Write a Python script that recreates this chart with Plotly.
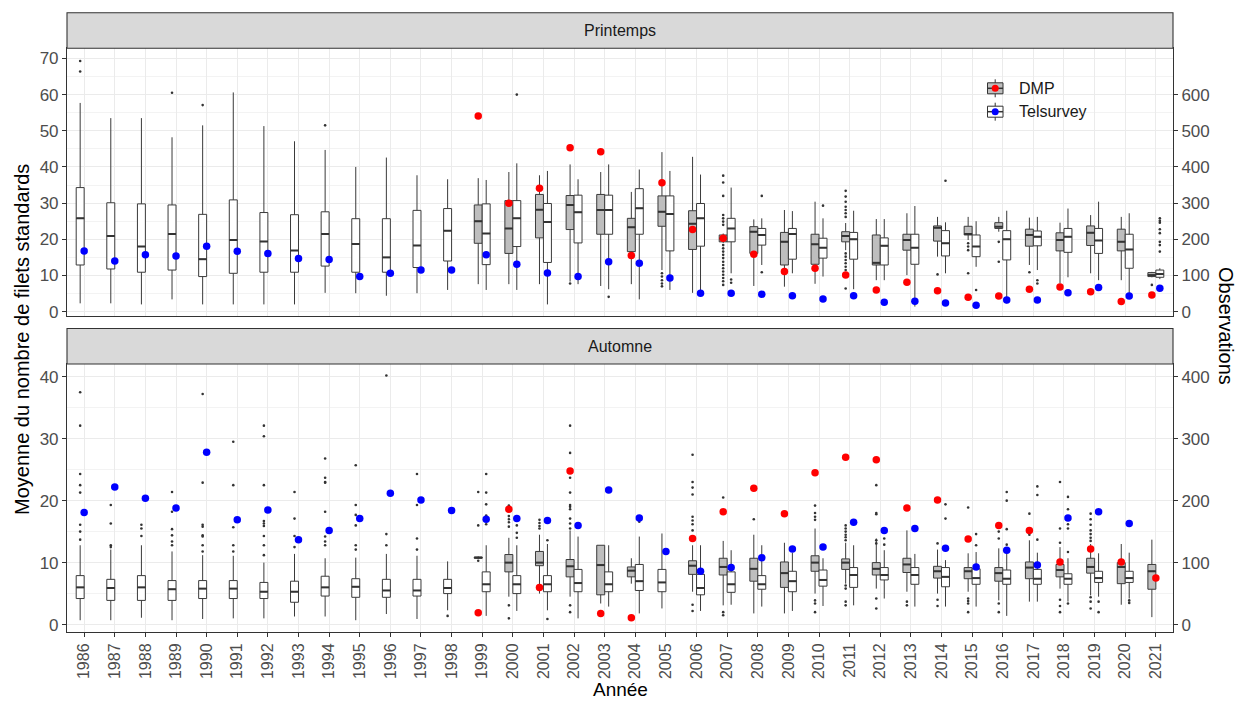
import plotly.graph_objects as go

# ---------------- data ----------------
# Printemps - Telsurvey boxplots (1986-2021): lower whisker, Q1, median, Q3, upper whisker
pr_tel_years = list(range(1986, 2022))
pr_tel_lo = [2.3, 2.3, 2.0, 3.4, 2.0, 2.0, 2.0, 2.0, 5.2, 5.1, 4.4, 5.1, 6.0, 6.0, 6.0, 2.0, 7.6, 6.2,
             3.4, 6.0, 5.1, 10.6, 12.9, 10.6, 9.7, 6.2, 8.7, 1.4, 10.6, 12.4, 2.3, 11.5, 9.5, 8.7, 4.3, 9.0]
pr_tel_q1 = [12.9, 11.8, 10.9, 11.5, 9.7, 10.6, 10.9, 10.9, 12.6, 10.9, 10.9, 12.2, 14.0, 13.0, 18.0, 13.6,
             19.0, 21.4, 21.4, 16.8, 18.1, 19.3, 18.4, 14.5, 14.8, 14.5, 12.9, 13.1, 15.4, 15.2, 14.3, 18.2,
             16.4, 16.1, 12.0, 9.5]
pr_tel_med = [25.8, 20.9, 18.0, 21.5, 14.5, 19.8, 19.4, 16.9, 21.5, 18.7, 15.0, 18.3, 22.4, 21.6, 25.8, 24.8,
              27.5, 28.1, 28.6, 27.0, 25.8, 23.0, 21.2, 21.5, 17.7, 20.0, 18.2, 17.7, 18.9, 18.0, 20.0, 20.7,
              20.7, 19.7, 17.2, 10.4]
pr_tel_q3 = [34.3, 30.1, 29.8, 29.5, 26.9, 30.9, 27.4, 26.8, 27.6, 25.7, 25.7, 28.0, 28.5, 29.8, 30.7, 29.9,
             32.2, 32.2, 34.0, 32.0, 29.9, 25.8, 23.0, 23.0, 20.3, 21.9, 20.4, 21.4, 22.4, 21.2, 22.4, 22.3,
             23.0, 23.0, 21.4, 11.5]
pr_tel_hi = [57.7, 53.5, 53.5, 48.2, 51.5, 60.6, 51.3, 47.1, 44.7, 40.0, 42.6, 37.7, 36.6, 36.4, 41.0, 38.9,
             36.6, 40.7, 39.3, 38.9, 37.9, 34.3, 25.8, 27.8, 25.8, 27.9, 25.6, 29.2, 24.7, 25.0, 27.9, 26.2,
             28.5, 30.4, 27.2, 12.0]

# Printemps - DMP boxplots (1999-2021)
pr_dmp_years = list(range(1999, 2022))
pr_dmp_lo = [7.6, 7.6, 7.6, 8.3, 7.1, 7.6, 11.5, 5.2, 19.0, 7.1, 6.9, 7.7, 17.0, 8.7, 10.1, 15.2, 19.8, 22.1,
             12.9, 7.8, 10.6, 8.7, 9.5]
pr_dmp_q1 = [18.9, 16.1, 20.4, 22.7, 21.4, 16.6, 23.6, 17.2, 19.3, 16.1, 12.9, 13.1, 19.3, 12.9, 17.0, 19.5,
             21.2, 23.0, 18.1, 16.8, 18.3, 16.8, 9.7]
pr_dmp_med = [25.0, 23.0, 28.2, 29.5, 28.1, 23.3, 27.6, 24.3, 20.2, 22.1, 19.3, 18.6, 20.9, 13.5, 19.8, 23.2,
              21.5, 23.5, 21.2, 19.8, 21.8, 19.3, 10.1]
pr_dmp_q3 = [29.5, 30.7, 32.4, 32.1, 32.4, 25.8, 32.0, 27.9, 21.2, 23.5, 21.9, 21.4, 22.1, 21.2, 21.4, 23.7,
             23.6, 24.6, 22.8, 21.8, 23.7, 22.8, 10.8]
pr_dmp_hi = [36.9, 38.6, 37.7, 40.7, 38.6, 33.1, 44.1, 42.8, 21.6, 25.5, 28.1, 30.4, 24.5, 25.6, 27.2, 26.2,
             26.2, 26.2, 26.0, 24.6, 26.7, 26.2, 11.0]

# Printemps - outlying values
pr_tel_out = {1986: [69.3, 66.4], 1989: [60.5], 1990: [57.1], 1994: [51.5], 2000: [60.0], 2003: [4.1],
              2007: [8.9, 8.0], 2008: [32.0, 10.9], 2010: [29.3], 2014: [36.2], 2015: [6.0],
              2017: [8.7, 7.8], 2021: [25.8, 25.1, 24.6, 22.8, 21.7, 19.3, 18.4, 16.6]}
pr_dmp_out = {2002: [7.8], 2005: [10.6, 9.7, 8.7, 7.8, 7.0],
              2007: [37.6, 35.7, 32.0, 26.7, 25.8, 24.9, 24.0, 18.4, 17.5, 16.6, 15.7, 14.8, 13.8, 12.9,
                     12.0, 11.1, 10.2, 9.3, 8.4, 7.4],
              2011: [33.4, 31.8, 30.4, 29.0, 28.1, 27.2, 26.2, 16.1, 15.2, 14.3, 13.4, 12.4, 11.5, 6.4],
              2014: [10.3], 2015: [18.9, 18.0, 17.0, 10.6], 2016: [19.3, 13.8], 2017: [10.9], 2021: [7.4]}

# Printemps - number of observations
pr_obs_dmp = [541, 300, 341, 453, 442, 155, 356, 227, 203, 159, 111, 120, 101, 60, 81, 58, 40, 43, 62, 68,
              55, 28, 46]
pr_obs_tel = [168, 140, 157, 154, 181, 167, 161, 147, 144, 97, 106, 115, 115, 157, 131, 107, 97, 138, 134,
              93, 51, 51, 48, 44, 35, 44, 26, 29, 24, 18, 32, 32, 52, 67, 43, 65]

# Automne - Telsurvey boxplots (1986-2020)
au_tel_years = list(range(1986, 2021))
au_tel_lo = [0.7, 0.7, 1.1, 0.7, 0.9, 1.0, 1.0, 1.3, 1.3, 0.7, 1.7, 0.9, 2.3, 1.4, 2.2, 2.3, 1.0, 2.9, 1.8,
             2.6, 2.2, 3.2, 2.9, 2.2, 3.0, 3.1, 4.2, 2.9, 2.9, 2.9, 1.4, 3.7, 3.7, 4.5, 4.2]
au_tel_q1 = [4.2, 3.9, 3.9, 3.9, 4.2, 4.2, 4.2, 3.6, 4.6, 4.4, 4.4, 4.6, 5.0, 5.3, 5.0, 5.3, 5.3, 5.3, 5.5,
             5.3, 4.8, 5.2, 5.7, 5.3, 6.2, 6.0, 7.2, 6.5, 6.1, 6.5, 6.5, 6.5, 6.5, 6.8, 6.8]
au_tel_med = [6.0, 5.9, 6.0, 5.7, 5.8, 5.8, 5.3, 5.3, 6.0, 6.1, 5.5, 5.5, 5.9, 6.5, 6.5, 6.5, 6.7, 6.5, 7.0,
              6.8, 5.9, 6.5, 6.5, 7.0, 7.2, 8.0, 8.0, 8.0, 7.7, 7.5, 7.4, 7.4, 7.4, 7.5, 7.5]
au_tel_q3 = [7.9, 7.3, 7.9, 7.1, 7.1, 7.1, 6.8, 7.0, 7.8, 7.4, 7.3, 7.3, 7.3, 8.5, 7.9, 7.9, 8.9, 8.5, 9.7,
             8.9, 8.1, 8.5, 7.9, 8.6, 8.8, 9.2, 9.2, 9.2, 9.2, 9.0, 8.8, 8.9, 8.2, 8.6, 8.6]
au_tel_hi = [12.8, 12.1, 12.8, 11.8, 11.2, 11.1, 10.0, 11.4, 10.7, 10.8, 11.4, 11.1, 10.2, 12.8, 12.8, 13.0,
             14.2, 12.8, 14.2, 14.7, 12.8, 12.0, 12.8, 11.6, 10.7, 12.8, 12.0, 11.4, 10.4, 11.7, 12.0, 11.6,
             10.7, 11.5, 11.6]

# Automne - DMP boxplots (1999-2004, 2006-2021)
au_dmp_years = [1999, 2000, 2001, 2002, 2003, 2004] + list(range(2006, 2022))
au_dmp_lo = [10.6, 4.5, 5.0, 4.5, 3.4, 6.6, 5.3, 3.1, 1.8, 1.8, 5.0, 6.6, 5.8, 5.3, 5.0, 5.3, 3.9, 3.7, 5.8,
             4.7, 3.2, 1.2]
au_dmp_q1 = [10.7, 8.5, 9.5, 7.7, 4.8, 7.7, 8.1, 8.0, 7.0, 6.0, 8.6, 8.9, 8.0, 8.4, 7.5, 7.4, 7.0, 7.4, 7.7,
             8.3, 6.6, 5.7]
au_dmp_med = [10.8, 10.0, 10.0, 9.4, 9.6, 8.7, 9.5, 9.3, 9.0, 8.3, 10.0, 10.0, 9.0, 9.7, 8.6, 8.6, 8.3, 9.2,
              8.8, 9.3, 9.3, 8.6]
au_dmp_q3 = [10.9, 11.3, 11.8, 10.5, 12.8, 9.3, 10.3, 10.7, 10.7, 10.1, 11.1, 10.6, 10.0, 10.7, 9.4, 9.2,
             9.2, 10.1, 9.7, 10.7, 10.0, 9.7]
au_dmp_hi = [11.0, 14.0, 14.5, 15.2, 12.8, 10.7, 12.8, 13.5, 14.5, 13.2, 15.5, 13.2, 13.9, 15.2, 12.1, 11.5,
             12.3, 13.6, 12.5, 13.0, 13.0, 13.7]

# Automne - outlying values
au_tel_out = {1986: [37.5, 32.1, 24.3, 22.5, 21.3, 16.1, 15.0, 13.7], 1987: [19.3, 16.3, 12.8, 12.5],
              1988: [16.1, 15.5, 14.3], 1989: [21.4, 18.2, 15.4, 14.4, 13.4, 12.8],
              1990: [37.2, 22.9, 16.1, 15.8, 14.4, 14.2, 12.8, 11.8], 1991: [29.5, 22.5, 15.7, 12.8, 11.8],
              1992: [32.1, 30.4, 22.5, 16.7, 16.3, 15.9, 14.3, 12.8, 11.2], 1993: [21.4, 17.1, 14.3, 12.5],
              1994: [26.8, 23.7, 23.0, 22.9, 18.2, 14.2, 13.4, 12.8], 1995: [25.7, 19.3, 17.7, 16.0, 12.8, 12.1],
              1996: [40.2, 14.6, 12.8], 1997: [24.3, 19.3, 13.9, 12.1], 1998: [1.4],
              1999: [24.3, 21.3, 19.4, 17.6, 17.1, 16.2], 2000: [17.1, 16.0, 14.8, 14.0], 2001: [13.6, 0.9],
              2004: [16.6], 2012: [13.9, 12.9], 2014: [19.4, 17.1], 2015: [14.6, 12.8],
              2016: [21.4, 20.0, 15.4, 12.9], 2017: [22.3, 20.9, 13.7],
              2018: [20.6, 18.6, 17.1, 16.2, 15.5, 11.7, 3.4], 2019: [3.7, 2.0], 2020: [3.9, 3.5]}
au_dmp_out = {1999: [21.4, 16.0, 10.3], 2000: [19.2, 17.5, 17.0, 16.5, 15.8, 3.1, 1.0],
              2001: [16.9, 16.4, 15.9, 15.5],
              2002: [32.1, 27.7, 23.7, 21.3, 19.3, 19.0, 18.6, 17.1, 16.3, 15.5, 3.1, 2.0],
              2006: [27.4, 23.0, 22.1, 21.0, 17.4, 16.8, 16.2, 15.2, 3.2, 2.2], 2007: [20.5, 2.0, 1.5],
              2008: [17.0], 2010: [19.2, 18.0, 17.4, 16.9, 3.9, 3.4, 2.0],
              2011: [16.0, 15.5, 15.0, 14.5, 14.1, 13.6, 6.3, 5.8, 3.7, 3.1],
              2012: [22.5, 18.0, 17.8, 13.6, 13.1, 4.2, 2.6], 2013: [3.7, 3.1], 2014: [13.1, 4.0, 3.0],
              2015: [18.9, 4.2, 3.8, 3.4, 2.0], 2016: [16.0, 15.0, 13.9, 3.4, 2.0], 2017: [17.9, 14.5],
              2018: [23.0, 15.5, 13.2, 4.0, 3.0, 2.0],
              2019: [17.9, 17.0, 16.1, 15.2, 14.6, 14.0, 13.5, 4.4, 3.7, 2.6]}

# Automne - number of observations
au_obs_dmp = [19, 186, 60, 248, 18, 11, 139, 182, 220, 179, 245, 270, 266, 188, 201, 138, 160, 152, 101, 122,
              101, 75]
au_obs_tel = [181, 222, 204, 188, 278, 169, 185, 137, 152, 171, 212, 201, 184, 170, 171, 168, 160, 217, 172,
              118, 86, 92, 108, 122, 125, 165, 152, 155, 123, 93, 120, 96, 172, 182, 163]

# ---------------- styling ----------------
W, H = 1239, 702
L, R, T, B = 67, 66, 12, 70
PW, PH = W - L - R, H - T - B
FONT = "Liberation Sans, Arial, sans-serif"
DARK = "#333333"
GRID = "#EBEBEB"
DODGE = 0.13
BOXW = 0.26


def fx(px):
    return (px - L) / PW


def fy(py):
    return (H - B - py) / PH


fig = go.Figure()


def add_season(tel_years, tel_stats, dmp_years, dmp_stats, tel_out, dmp_out, obs_tel, obs_dmp, xa, ya, ya2):
    dmp_set, tel_set = set(dmp_years), set(tel_years)
    x_dmp = [y - DODGE for y in dmp_years]
    x_tel = [y + DODGE if y in dmp_set else y - DODGE for y in tel_years]
    for xs, stats, fill in ((x_dmp, dmp_stats, "#BEBEBE"), (x_tel, tel_stats, "#FFFFFF")):
        lo, q1, med, q3, hi = stats
        fig.add_trace(go.Box(x=xs, lowerfence=lo, q1=q1, median=med, q3=q3, upperfence=hi,
                             width=BOXW, fillcolor=fill, line=dict(color="#3A3A3A", width=1),
                             whiskerwidth=0, boxpoints=False, xaxis=xa, yaxis=ya,
                             showlegend=False, hoverinfo="skip"))
        # thicker median bar, as in ggplot
        mx, my = [], []
        for xc, m in zip(xs, med):
            mx += [xc - BOXW / 2, xc + BOXW / 2, None]
            my += [m, m, None]
        fig.add_trace(go.Scatter(x=mx, y=my, mode="lines", line=dict(color=DARK, width=2),
                                 xaxis=xa, yaxis=ya, showlegend=False, hoverinfo="skip"))
    # outliers
    ox, oy = [], []
    for yrs, xs, outs in ((dmp_years, x_dmp, dmp_out), (tel_years, x_tel, tel_out)):
        pos = dict(zip(yrs, xs))
        for yr, vals in outs.items():
            ox += [pos[yr]] * len(vals)
            oy += vals
    fig.add_trace(go.Scatter(x=ox, y=oy, mode="markers", marker=dict(color=DARK, size=2.6),
                             xaxis=xa, yaxis=ya, showlegend=False, hoverinfo="skip"))
    # observation counts (secondary axis)
    px_dmp = [y - DODGE if y in tel_set else y for y in dmp_years]
    px_tel = [y + DODGE if y in dmp_set else y for y in tel_years]
    fig.add_trace(go.Scatter(x=px_dmp, y=obs_dmp, mode="markers", marker=dict(color="#FF0000", size=7.5),
                             xaxis=xa, yaxis=ya2, showlegend=False, name="DMP"))
    fig.add_trace(go.Scatter(x=px_tel, y=obs_tel, mode="markers", marker=dict(color="#0000FF", size=7.5),
                             xaxis=xa, yaxis=ya2, showlegend=False, name="Telsurvey"))


add_season(pr_tel_years, (pr_tel_lo, pr_tel_q1, pr_tel_med, pr_tel_q3, pr_tel_hi),
           pr_dmp_years, (pr_dmp_lo, pr_dmp_q1, pr_dmp_med, pr_dmp_q3, pr_dmp_hi),
           pr_tel_out, pr_dmp_out, pr_obs_tel, pr_obs_dmp, "x", "y", "y3")
add_season(au_tel_years, (au_tel_lo, au_tel_q1, au_tel_med, au_tel_q3, au_tel_hi),
           au_dmp_years, (au_dmp_lo, au_dmp_q1, au_dmp_med, au_dmp_q3, au_dmp_hi),
           au_tel_out, au_dmp_out, au_obs_tel, au_obs_dmp, "x2", "y2", "y4")

top_dom = [fy(316), fy(48.3)]
bot_dom = [0, fy(364)]
tickfont = dict(family=FONT, size=17, color="#4D4D4D")
xtickfont = dict(family=FONT, size=16, color="#4D4D4D")
xbase = dict(range=[1985.44, 2021.56], tickmode="linear", tick0=1986, dtick=1, showgrid=True,
             gridcolor=GRID, gridwidth=1.1, showline=True, linecolor=DARK, linewidth=1.1, mirror=True,
             zeroline=False, domain=[0, 1])
ybase = dict(showgrid=True, gridcolor=GRID, gridwidth=1.1, showline=True, linecolor=DARK, linewidth=1.1,
             mirror=True, zeroline=False, ticks="outside", ticklen=4, tickcolor=DARK, tickwidth=1.1,
             tickfont=tickfont,
             minor=dict(tickmode="linear", tick0=0, dtick=5, showgrid=True, gridcolor="#F3F3F3", gridwidth=0.6))
y2base = dict(showgrid=False, showline=False, zeroline=False, side="right", ticks="outside", ticklen=4,
              tickcolor=DARK, tickwidth=1.1, tickfont=tickfont)

fig.update_layout(
    width=W, height=H, margin=dict(l=L, r=R, t=T, b=B), autosize=False,
    paper_bgcolor="white", plot_bgcolor="white", boxmode="overlay", showlegend=False,
    font=dict(family=FONT),
    xaxis=dict(xbase, anchor="y", showticklabels=False, ticks=""),
    xaxis2=dict(xbase, anchor="y2", ticks="outside", ticklen=4, tickcolor=DARK, tickwidth=1.1,
                tickangle=-90, tickfont=xtickfont),
    yaxis=dict(ybase, domain=top_dom, anchor="x", range=[-1.2, 72.8], tickvals=list(range(0, 71, 10))),
    yaxis3=dict(y2base, overlaying="y", anchor="x", range=[-12, 728], tickvals=list(range(0, 601, 100))),
    yaxis2=dict(ybase, domain=bot_dom, anchor="x2", range=[-1.2, 42.05], tickvals=list(range(0, 41, 10))),
    yaxis4=dict(y2base, overlaying="y2", anchor="x2", range=[-12, 420.5], tickvals=list(range(0, 401, 100))),
)

# facet strips
shapes = []
annotations = []
for (y_top, y_bot, label) in ((12.7, 48.3, "Printemps"), (328.5, 364, "Automne")):
    shapes.append(dict(type="rect", xref="paper", yref="paper", x0=0, x1=1, y0=fy(y_bot), y1=fy(y_top),
                       fillcolor="#D9D9D9", line=dict(color=DARK, width=1.1), layer="above"))
    annotations.append(dict(xref="paper", yref="paper", x=0.5, y=fy((y_top + y_bot) / 2), text=label,
                            showarrow=False, xanchor="center", yanchor="middle",
                            font=dict(family=FONT, size=16, color="#1A1A1A")))

# legend drawn inside the top panel
for (cy, fill, dot, label) in ((88.3, "#BEBEBE", "#FF0000", "DMP"), (111.7, "#FFFFFF", "#0000FF", "Telsurvey")):
    shapes.append(dict(type="line", xref="paper", yref="paper", x0=fx(995.2), x1=fx(995.2),
                       y0=fy(cy + 9), y1=fy(cy - 9), line=dict(color=DARK, width=1)))
    shapes.append(dict(type="rect", xref="paper", yref="paper", x0=fx(987.5), x1=fx(1003),
                       y0=fy(cy + 5.5), y1=fy(cy - 5.5), fillcolor=fill, line=dict(color=DARK, width=1)))
    shapes.append(dict(type="line", xref="paper", yref="paper", x0=fx(987.5), x1=fx(1003),
                       y0=fy(cy), y1=fy(cy), line=dict(color=DARK, width=1.5)))
    shapes.append(dict(type="circle", xref="paper", yref="paper", xsizemode="pixel", ysizemode="pixel",
                       xanchor=fx(995.2), yanchor=fy(cy), x0=-3.5, x1=3.5, y0=-3.5, y1=3.5,
                       fillcolor=dot, line=dict(color=dot, width=0)))
    annotations.append(dict(xref="paper", yref="paper", x=fx(1017), y=fy(cy), text=label, showarrow=False,
                            xanchor="left", yanchor="middle", font=dict(family=FONT, size=16, color="#1A1A1A")))

# axis titles
annotations.append(dict(xref="paper", yref="paper", x=fx(22), y=fy(340), text="Moyenne du nombre de filets standards",
                        textangle=-90, showarrow=False, xanchor="center", yanchor="middle",
                        font=dict(family=FONT, size=20, color="black")))
annotations.append(dict(xref="paper", yref="paper", x=fx(1226), y=fy(326), text="Observations",
                        textangle=90, showarrow=False, xanchor="center", yanchor="middle",
                        font=dict(family=FONT, size=20, color="black")))
annotations.append(dict(xref="paper", yref="paper", x=fx(620), y=fy(689), text="Année",
                        showarrow=False, xanchor="center", yanchor="middle",
                        font=dict(family=FONT, size=19, color="black")))

fig.update_layout(shapes=shapes, annotations=annotations)
fig.write_html("out.html")
